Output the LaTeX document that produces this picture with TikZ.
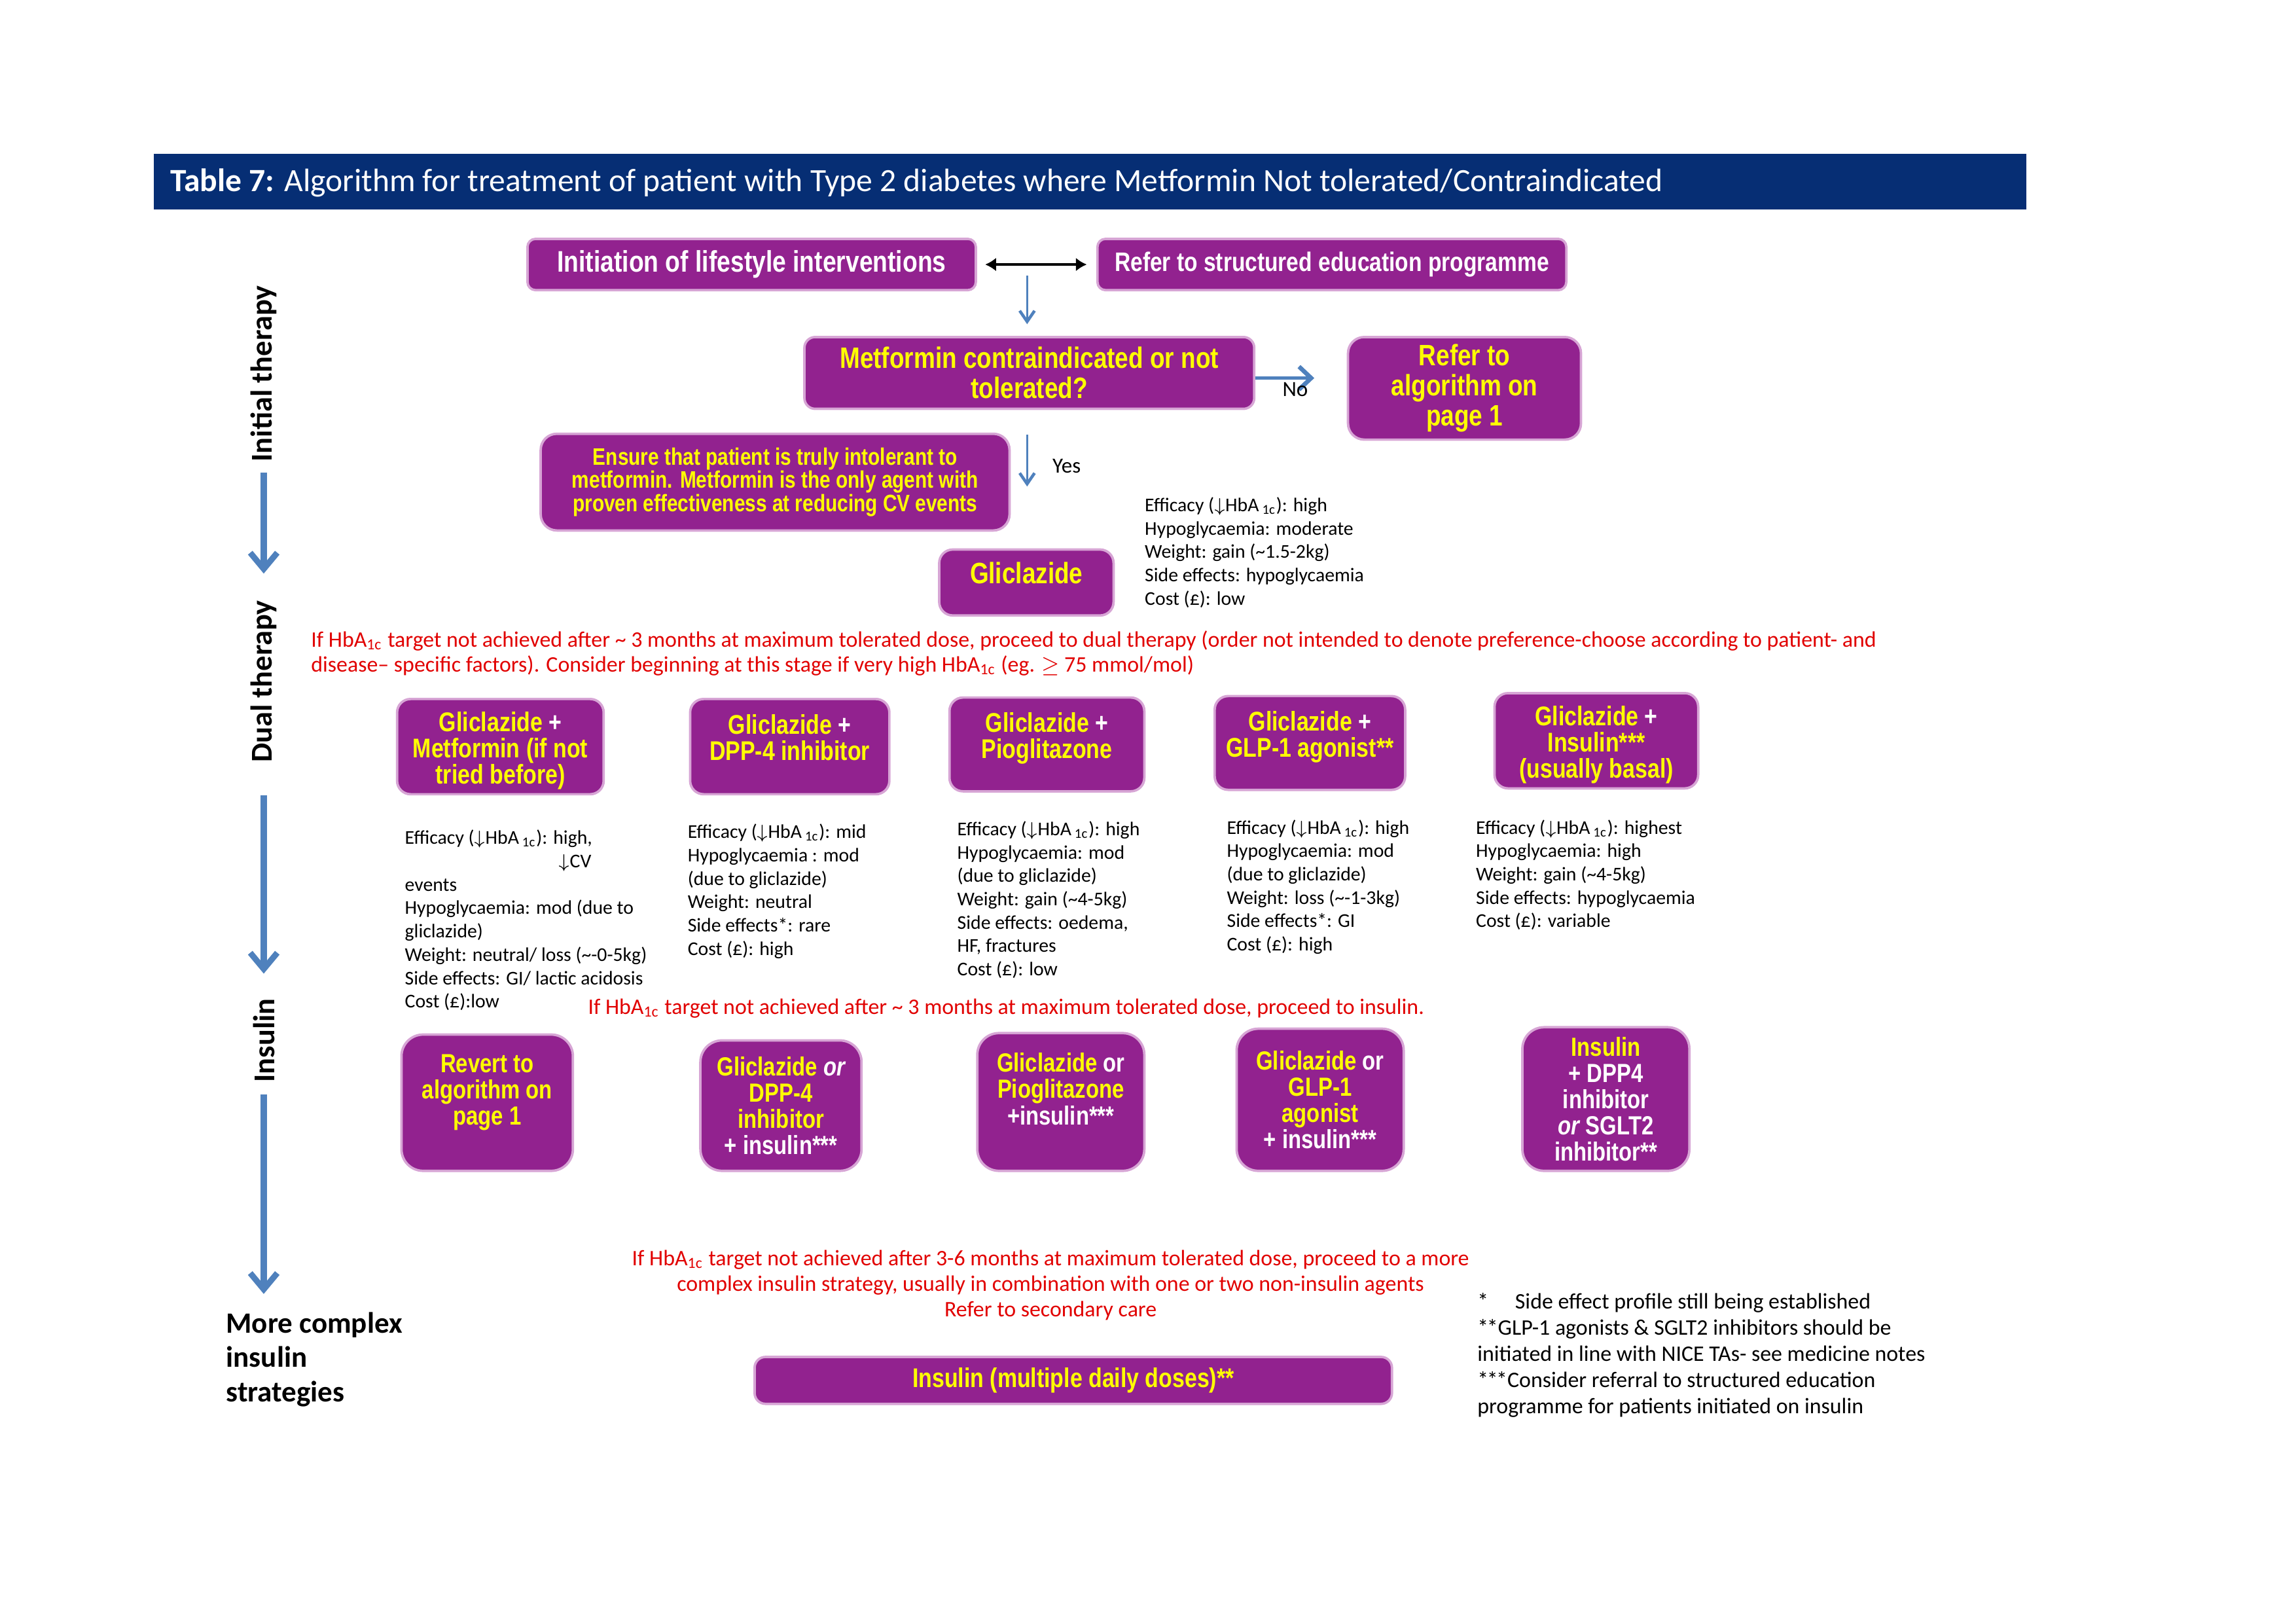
\documentclass[tikz,border=0pt]{standalone}
\usepackage{fontspec}
\setmainfont{Carlito}
\newfontfamily\boxfont[FakeStretch=0.82]{Liberation Sans}
\usetikzlibrary{arrows.meta}

\definecolor{titlenavy}{RGB}{6,46,116}
\definecolor{boxpurple}{RGB}{146,34,143}
\definecolor{boxedge}{RGB}{215,165,213}
\definecolor{boxyellow}{RGB}{255,255,0}
\definecolor{redtext}{RGB}{225,0,0}
\definecolor{arrowblue}{RGB}{79,129,189}

\newlength\un
\setlength\un{0.019038cm}

\tikzset{
  pbox/.style={draw=boxedge, line width=0.9pt, fill=boxpurple, rounded corners=5pt,
    align=center, inner sep=1pt, text=boxyellow},
  ftbig/.style={font=\boxfont\bfseries\fontsize{10.9}{11.1}\selectfont},
  ftmid/.style={font=\boxfont\bfseries\fontsize{10}{9.7}\selectfont},
  ftins/.style={font=\boxfont\bfseries\fontsize{9.7}{9.7}\selectfont},
  ftsmall/.style={font=\boxfont\bfseries\fontsize{8.8}{8.65}\selectfont},
  info/.style={anchor=north west, align=left, inner sep=0, font=\fontsize{7.2}{8.65}\selectfont},
  redtxt/.style={text=redtext, inner sep=0, font=\fontsize{8.2}{9.2}\selectfont},
  sidelbl/.style={rotate=90, inner sep=0, font=\bfseries\fontsize{11.2}{13}\selectfont},
  sidearrow/.style={arrowblue, line width=2.2pt, -{Straight Barb[length=6pt, width=10pt]}},
  thinarrow/.style={arrowblue, line width=0.6pt, -{Straight Barb[length=4pt, width=5.5pt, line width=1.1pt]}},
  noarrow/.style={arrowblue, line width=1.3pt, -{Straight Barb[length=4.5pt, width=8.5pt, line width=1.6pt]}},
  dblarrow/.style={black, line width=1pt, {Latex[length=4pt, width=5pt]}-{Latex[length=4pt, width=5pt]}},
}

\begin{document}
\begin{tikzpicture}[x=0.019038cm, y=-0.019038cm]
\useasboundingbox (0,0) rectangle (1567,1108);
% title
\fill[titlenavy] (105,105) rectangle (1383,143);
\node[anchor=west, inner sep=0, text=white, font=\fontsize{12}{14}\selectfont] (title) at (116,125)
  {\textbf{Table 7:} Algorithm for treatment of patient with Type 2 diabetes where Metformin Not tolerated/Contraindicated};

% side labels
\node[sidelbl] (lblinit) at (180,255) {Initial therapy};
\node[sidelbl] (lbldual) at (180,465) {Dual therapy};
\node[sidelbl] (lblins) at (180,710) {Insulin};
\node[anchor=north west, align=left, inner sep=0, font=\bfseries\fontsize{10.9}{12.7}\selectfont] (lblmore) at (154,895)
  {More complex\\insulin\\strategies};
\draw[sidearrow, shorten <=3.8pt, shorten >=9.7pt] (lblinit.west) -- (lbldual.east);
\draw[sidearrow, shorten <=12pt, shorten >=9pt] (lbldual.west) -- (lblins.east);
\draw[sidearrow, shorten <=4.3pt, shorten >=6.5pt] (lblins.west) -- (lblins.west |- lblmore.north);

% initial therapy
\node[pbox, text=white, font=\boxfont\bfseries\fontsize{11}{12}\selectfont, rounded corners=3pt,
  minimum width=306\un, minimum height=35\un] (life) at (513,180.5)
  {Initiation of lifestyle interventions};
\node[pbox, text=white, font=\boxfont\bfseries\fontsize{9.9}{11}\selectfont, rounded corners=3pt,
  minimum width=320\un, minimum height=35\un] (edu) at (909,180.5)
  {Refer to structured education programme};
\draw[dblarrow, shorten <=3pt, shorten >=3.5pt] (life.east) -- (edu.west);

\node[pbox, ftbig, rounded corners=4pt, minimum width=307\un, minimum height=49\un] (q) at (702.5,254.5)
  {Metformin contraindicated or not\\tolerated?};
\node[pbox, ftbig, rounded corners=6pt, minimum width=159\un, minimum height=70\un] (ref1) at (999.5,265)
  {Refer to\\algorithm on\\page 1};
\coordinate (lsplit) at (701,188);
\draw[thinarrow, shorten >=4.3pt] (lsplit) -- (lsplit |- q.north);
\coordinate (noend) at (897,258);
\draw[noarrow] (q.east |- noend) -- (noend);
\node[font=\fontsize{8}{9}\selectfont, inner sep=0] (no) at (884,266) {No};

\node[pbox, ftsmall, rounded corners=6pt, minimum width=320\un, minimum height=66\un] (ensure) at (529,329)
  {Ensure that patient is truly intolerant to\\metformin. Metformin is the only agent with\\proven effectiveness at reducing CV events};
\coordinate (yesend) at (701,332);
\draw[thinarrow, shorten <=9pt] (yesend |- q.south) -- (yesend);
\node[font=\fontsize{8}{9}\selectfont, inner sep=0] (yes) at (728,318) {Yes};

\node[pbox, ftbig, rounded corners=5pt, minimum width=119\un, minimum height=45\un] (glic) at (700.5,397.5)
  {Gliclazide\\[-4pt]\mbox{}};
\node[info] (glicinfo) at (781,339)
  {Efficacy ($\downarrow$HbA\,\textsubscript{1c}): high\\Hypoglycaemia: moderate\\Weight: gain (\textasciitilde1.5-2kg)\\Side effects: hypoglycaemia\\Cost (£): low};

% dual therapy
\node[redtxt, anchor=north west, align=left] (reddual) at (212,430)
  {If HbA\textsubscript{1c} target not achieved after \textasciitilde\ 3 months at maximum tolerated dose, proceed to dual therapy (order not intended to denote preference-choose according to patient- and\\
   disease-- specific factors). Consider beginning at this stage if very high HbA\textsubscript{1c} (eg. $\geq$ 75 mmol/mol)};

\node[pbox, ftmid, minimum width=141\un, minimum height=65\un] (dmet) at (341.5,509.5)
  {\mbox{}\\[0.5pt]Gliclazide \textcolor{white}{+}\\Metformin (if not\\tried before)};
\node[pbox, ftmid, minimum width=136\un, minimum height=65\un] (ddpp) at (539,509.5)
  {\mbox{}\\[0.5pt]Gliclazide \textcolor{white}{+}\\DPP-4 inhibitor\\\mbox{}};
\node[pbox, ftmid, minimum width=133\un, minimum height=64\un] (dpio) at (714.5,508)
  {\mbox{}\\[0.5pt]Gliclazide \textcolor{white}{+}\\Pioglitazone\\\mbox{}};
\node[pbox, ftmid, minimum width=130\un, minimum height=64\un] (dglp) at (894,507)
  {\mbox{}\\[0.5pt]Gliclazide \textcolor{white}{+}\\GLP-1 agonist**\\\mbox{}};
\node[pbox, ftmid, minimum width=139\un, minimum height=65\un] (dins) at (1089.5,505.5)
  {\mbox{}\\[0.5pt]Gliclazide \textcolor{white}{+}\\Insulin***\\(usually basal)};

\node[info] (metinfo) at (276,566)
  {Efficacy ($\downarrow$HbA\,\textsubscript{1c}): high,\\\hspace*{105\un}$\downarrow$CV\\events\\Hypoglycaemia: mod (due to\\gliclazide)\\Weight: neutral/ loss (\textasciitilde-0-5kg)\\Side effects: GI/ lactic acidosis\\Cost (£):low};
\node[info] (dppinfo) at (469,562)
  {Efficacy ($\downarrow$HbA\,\textsubscript{1c}): mid\\Hypoglycaemia : mod\\(due to gliclazide)\\Weight: neutral\\Side effects*: rare\\Cost (£): high};
\node[info] (pioinfo) at (653,560)
  {Efficacy ($\downarrow$HbA\,\textsubscript{1c}): high\\Hypoglycaemia: mod\\(due to gliclazide)\\Weight: gain (\textasciitilde4-5kg)\\Side effects: oedema,\\HF, fractures\\Cost (£): low};
\node[info] (glpinfo) at (837,559)
  {Efficacy ($\downarrow$HbA\,\textsubscript{1c}): high\\Hypoglycaemia: mod\\(due to gliclazide)\\Weight: loss (\textasciitilde-1-3kg)\\Side effects*: GI\\Cost (£): high};
\node[info] (insinfo) at (1007,559)
  {Efficacy ($\downarrow$HbA\,\textsubscript{1c}): highest\\Hypoglycaemia: high\\Weight: gain (\textasciitilde4-5kg)\\Side effects: hypoglycaemia\\Cost (£): variable};

% insulin
\node[redtxt, anchor=base west] (redins) at (401,692)
  {If HbA\textsubscript{1c} target not achieved after \textasciitilde\ 3 months at maximum tolerated dose, proceed to insulin.};

\node[pbox, ftins, rounded corners=8pt, minimum width=117\un, minimum height=93\un] (irev) at (332.5,752.5)
  {Revert to\\algorithm on\\page 1\\\mbox{}};
\node[pbox, ftins, rounded corners=8pt, minimum width=110\un, minimum height=89\un] (idpp) at (533,754.5)
  {Gliclazide \textcolor{white}{\itshape or}\\DPP-4\\inhibitor\\\textcolor{white}{+ insulin***}};
\node[pbox, ftins, rounded corners=8pt, minimum width=114\un, minimum height=94\un] (ipio) at (724,752)
  {Gliclazide \textcolor{white}{or}\\Pioglitazone\\\textcolor{white}{+insulin***}\\\mbox{}};
\node[pbox, ftins, rounded corners=8pt, minimum width=114\un, minimum height=97\un] (iglp) at (901,750.5)
  {Gliclazide \textcolor{white}{or}\\GLP-1\\agonist\\\textcolor{white}{+ insulin***}};
\node[pbox, ftins, text=white, rounded corners=8pt, minimum width=114\un, minimum height=98\un] (isglt) at (1096,750)
  {\textcolor{boxyellow}{Insulin}\\+ DPP4\\inhibitor\\{\itshape or} SGLT2\\inhibitor**};

% more complex insulin strategies
\node[redtxt, align=center, font=\fontsize{8.2}{9.45}\selectfont] (redmore) at (717,877)
  {If HbA\textsubscript{1c} target not achieved after 3-6 months at maximum tolerated dose, proceed to a more\\
   complex insulin strategy, usually in combination with one or two non-insulin agents\\
   Refer to secondary care};
\node[pbox, ftmid, rounded corners=4pt, minimum width=435\un, minimum height=32\un] (multi) at (732.5,942)
  {Insulin (multiple daily doses)**};

% footnotes
\node[anchor=north west, align=left, inner sep=0, font=\fontsize{8.2}{9.7}\selectfont] (notes) at (1008,882)
  {*\hspace{1.2em}Side effect profile still being established\\*\kern-0.6pt*GLP-1 agonists \& SGLT2 inhibitors should be\\initiated in line with NICE TAs- see medicine notes\\*\kern-0.6pt*\kern-0.6pt*Consider referral to structured education\\programme for patients initiated on insulin};
\end{tikzpicture}
\end{document}
